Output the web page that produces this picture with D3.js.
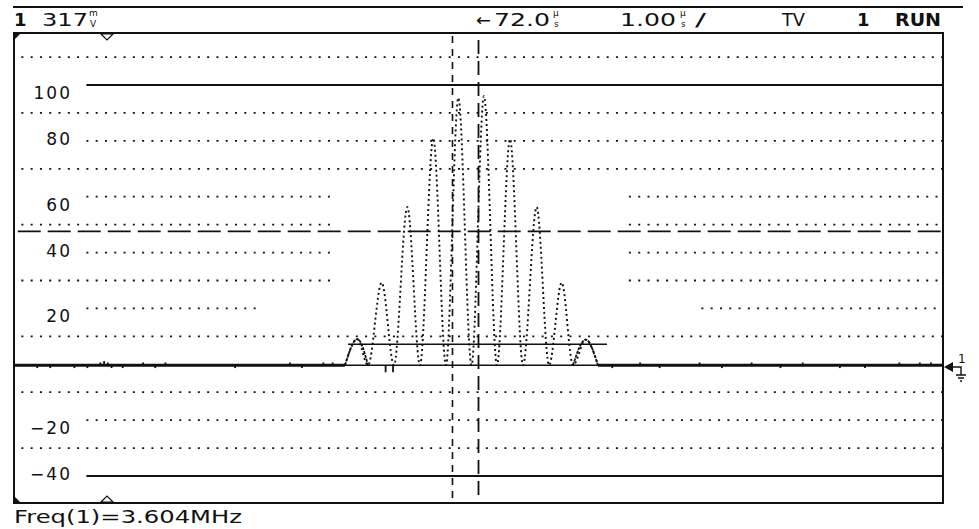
<!DOCTYPE html>
<html><head><meta charset="utf-8">
<script src="https://cdn.jsdelivr.net/npm/d3@7"></script>
<style>body{margin:0;background:#fff}svg{display:block}</style>
</head><body>
<svg id="c" width="979" height="529"></svg>
<script>
// ---------- data ----------
const yTicks = [100, 80, 60, 40, 20, -20, -40];
const solidLevels = [100, -40];
const labeledDotLevels = [80, 60, 40, 20, -20];
const gratLevels = [110, 90, 70, 50, 30, 10, -10, -30];
const gapLevelsA = [60, 50, 40, 30];
const gapA = [3.43, 6.58];
const gapLevelsB = [20];
const gapB = [2.63, 7.38];
const burstTime = [3.563, 3.695, 3.811, 3.958, 4.090, 4.234, 4.370, 4.513, 4.650, 4.783, 4.925,
                   5.059, 5.199, 5.339, 5.479, 5.626, 5.759, 5.896, 6.017, 6.154, 6.286];
const burstValue = [0, 9.4, 0, 29.6, 0, 56.7, 0, 81.3, 0, 95.8, 0,
                    96.4, 0, 81, 0, 56.7, 0, 29.6, 0, 9.2, 0];
const noiseTime = [0.25, 0.39, 0.65, 0.79, 0.93, 0.97, 1.01, 1.05, 1.17, 1.39, 1.52, 1.63,
                   2.38, 2.97, 3.10, 3.33, 3.43, 4.00, 4.08, 6.44, 6.74, 6.95, 7.38, 7.62, 7.94,
                   8.25, 8.49, 8.89, 9.16, 9.53, 9.75, 9.87];
const noiseValue = [-1, -1, -1, -1, 1, 1.5, 1, -1, -1, 1, -1, 1,
                    -1, 1, -1, 1, 1, -2.5, -2.5, -1, 1, -1, 1, -1, 1,
                    -1, 1, -1, -1, 1, 1, 1];
const cursorTimes = [4.72, 5.00];
const triggerLevel = 47.6;
const bracketLevel = 7.2;
const bracketTimes = [3.595, 6.383];
const freqText = "Freq(1)=3.604MHz";

// ---------- scales ----------
const svg = d3.select("#c");
const x = d3.scaleLinear().domain([0, 10]).range([14, 943]);
const y = d3.scaleLinear().domain([-40, 100]).range([476, 85]);
const FONT = "DejaVu Sans, sans-serif";
const ink = "#111";

// ---------- frame ----------
svg.append("line").attr("x1", 13).attr("x2", 963).attr("y1", 7).attr("y2", 7)
  .attr("stroke", ink).attr("stroke-width", 2);
svg.append("rect").attr("x", x(0)).attr("y", 33).attr("width", x(10) - x(0)).attr("height", 470)
  .attr("fill", "none").attr("stroke", ink).attr("stroke-width", 2);

// graticule dotted rows
const dotDash = "2 7.29";
function dotRow(level, t0, t1) {
  svg.append("line").attr("x1", x(t0) - 1).attr("x2", x(t1)).attr("y1", y(level)).attr("y2", y(level))
    .attr("stroke", ink).attr("stroke-width", 1.8).attr("stroke-dasharray", dotDash);
}
function rowWithGaps(level, start) {
  if (gapLevelsA.includes(level)) { dotRow(level, start, gapA[0]); dotRow(level, gapA[1] + 0.05, 9.99); }
  else if (gapLevelsB.includes(level)) { dotRow(level, start, gapB[0]); dotRow(level, gapB[1] + 0.03, 9.99); }
  else dotRow(level, start, 9.99);
}
gratLevels.forEach(l => rowWithGaps(l, 0.09));
labeledDotLevels.forEach(l => rowWithGaps(l, 0.79));

// solid reference lines
solidLevels.forEach(l => {
  svg.append("line").attr("x1", x(0.79) - 1).attr("x2", x(10)).attr("y1", y(l)).attr("y2", y(l))
    .attr("stroke", ink).attr("stroke-width", 2);
});

// trigger level dashed line
svg.append("line").attr("x1", x(0.04)).attr("x2", x(10)).attr("y1", y(triggerLevel)).attr("y2", y(triggerLevel))
  .attr("stroke", ink).attr("stroke-width", 1.8).attr("stroke-dasharray", "23 7");

// cursors
svg.append("line").attr("x1", x(cursorTimes[0])).attr("x2", x(cursorTimes[0])).attr("y1", 36).attr("y2", 503)
  .attr("stroke", ink).attr("stroke-width", 1.6).attr("stroke-dasharray", "7 6");
svg.append("line").attr("x1", x(cursorTimes[1])).attr("x2", x(cursorTimes[1])).attr("y1", 40).attr("y2", 503)
  .attr("stroke", ink).attr("stroke-width", 1.8).attr("stroke-dasharray", "14 7");

// axis labels
const axis = d3.axisLeft(y).tickValues(yTicks).tickSize(0).tickPadding(0)
  .tickFormat(d => d < 0 ? "\u2212" + Math.abs(d) : String(d));
const ag = svg.append("g").attr("transform", "translate(72,0)").call(axis);
ag.select(".domain").remove();
ag.selectAll("text").attr("font-family", FONT).attr("font-size", 17).attr("fill", ink)
  .attr("letter-spacing", 2).attr("y", d => Math.abs(d % 40) === 20 ? 8 : -2);

// baseline trace
const t0 = burstTime[0], t1 = burstTime[burstTime.length - 1];
[[0, t0], [t1, 10]].forEach(([a, b]) => {
  svg.append("line").attr("x1", x(a)).attr("x2", x(b)).attr("y1", y(0) + 1).attr("y2", y(0) + 1)
    .attr("stroke", ink).attr("stroke-width", 3);
});
svg.append("line").attr("x1", x(t0)).attr("x2", x(t1)).attr("y1", y(0) + 1).attr("y2", y(0) + 1)
  .attr("stroke", ink).attr("stroke-width", 1.6);
noiseTime.forEach((t, i) => {
  svg.append("line").attr("x1", x(t)).attr("x2", x(t)).attr("y1", y(0) + 1).attr("y2", y(noiseValue[i]) + 1)
    .attr("stroke", ink).attr("stroke-width", 1.8);
});

// bracket line
svg.append("line").attr("x1", x(bracketTimes[0])).attr("x2", x(bracketTimes[1]))
  .attr("y1", y(bracketLevel)).attr("y2", y(bracketLevel)).attr("stroke", ink).attr("stroke-width", 1.6);

// burst waveform
const pts = burstTime.map((t, i) => [t, burstValue[i]]);
const line = d3.line().x(d => x(d[0])).y(d => y(d[1]) + 1).curve(d3.curveMonotoneX);
svg.append("path").attr("d", line(pts)).attr("fill", "none").attr("stroke", ink)
  .attr("stroke-width", 1.9).attr("stroke-dasharray", "2 3");
svg.append("path").attr("d", line(pts.slice(0, 3))).attr("fill", "none").attr("stroke", ink)
  .attr("stroke-width", 1.8).attr("stroke-dasharray", "3 1");
svg.append("path").attr("d", line(pts.slice(-3))).attr("fill", "none").attr("stroke", ink)
  .attr("stroke-width", 1.8).attr("stroke-dasharray", "3 1");

// corner markers
svg.append("path").attr("d", "M14,33 L21,33 L14,40 Z").attr("fill", ink);
svg.append("path").attr("d", "M14,503 L14,496 L21,503 Z").attr("fill", ink);
svg.append("path").attr("d", "M101,34 L113,34 L107,40 Z").attr("fill", "#fff").attr("stroke", ink).attr("stroke-width", 1.2);
svg.append("path").attr("d", "M101,502 L113,502 L107,496 Z").attr("fill", "#fff").attr("stroke", ink).attr("stroke-width", 1.2);

// ground marker right
svg.append("path").attr("d", "M944,367 L953,362 L953,372 Z").attr("fill", ink);
svg.append("path").attr("d", "M953,367 L961,367 L961,375 M956,375 L966,375 M958,378 L964,378 M960,381 L962,381")
  .attr("fill", "none").attr("stroke", ink).attr("stroke-width", 1.4);
svg.append("text").attr("x", 958).attr("y", 363).attr("font-family", FONT).attr("font-size", 12)
  .attr("fill", ink).text("1");

// header
function txt(s, xx, yy, opts = {}) {
  const t = svg.append("text").attr("x", xx).attr("y", yy).attr("font-family", FONT)
    .attr("font-size", opts.size || 17).attr("fill", ink).attr("font-weight", opts.bold ? "bold" : "normal").text(s);
  if (opts.len) t.attr("textLength", opts.len).attr("lengthAdjust", "spacingAndGlyphs");
  return t;
}
function stack(top, bot, xx) {
  txt(top, xx, 16, { size: 9 });
  txt(bot, xx + 1, 27, { size: 9 });
}
txt("1", 14, 26, { bold: true, size: 18 });
txt("317", 42, 26, { len: 46 });
stack("m", "V", 89);
txt("\u2190", 476, 26, { len: 15 });
txt("72.0", 494, 26, { len: 56 });
stack("\u00b5", "s", 553);
txt("1.00", 620, 26, { len: 56 });
stack("\u00b5", "s", 680);
txt("/", 695, 26, { len: 11 });
txt("TV", 782, 26, { len: 23 });
txt("1", 857, 26, { bold: true, size: 18 });
txt("RUN", 895, 26, { bold: true, size: 18, len: 46 });

// footer
txt(freqText, 14, 523, { len: 228 });
</script>
</body></html>
